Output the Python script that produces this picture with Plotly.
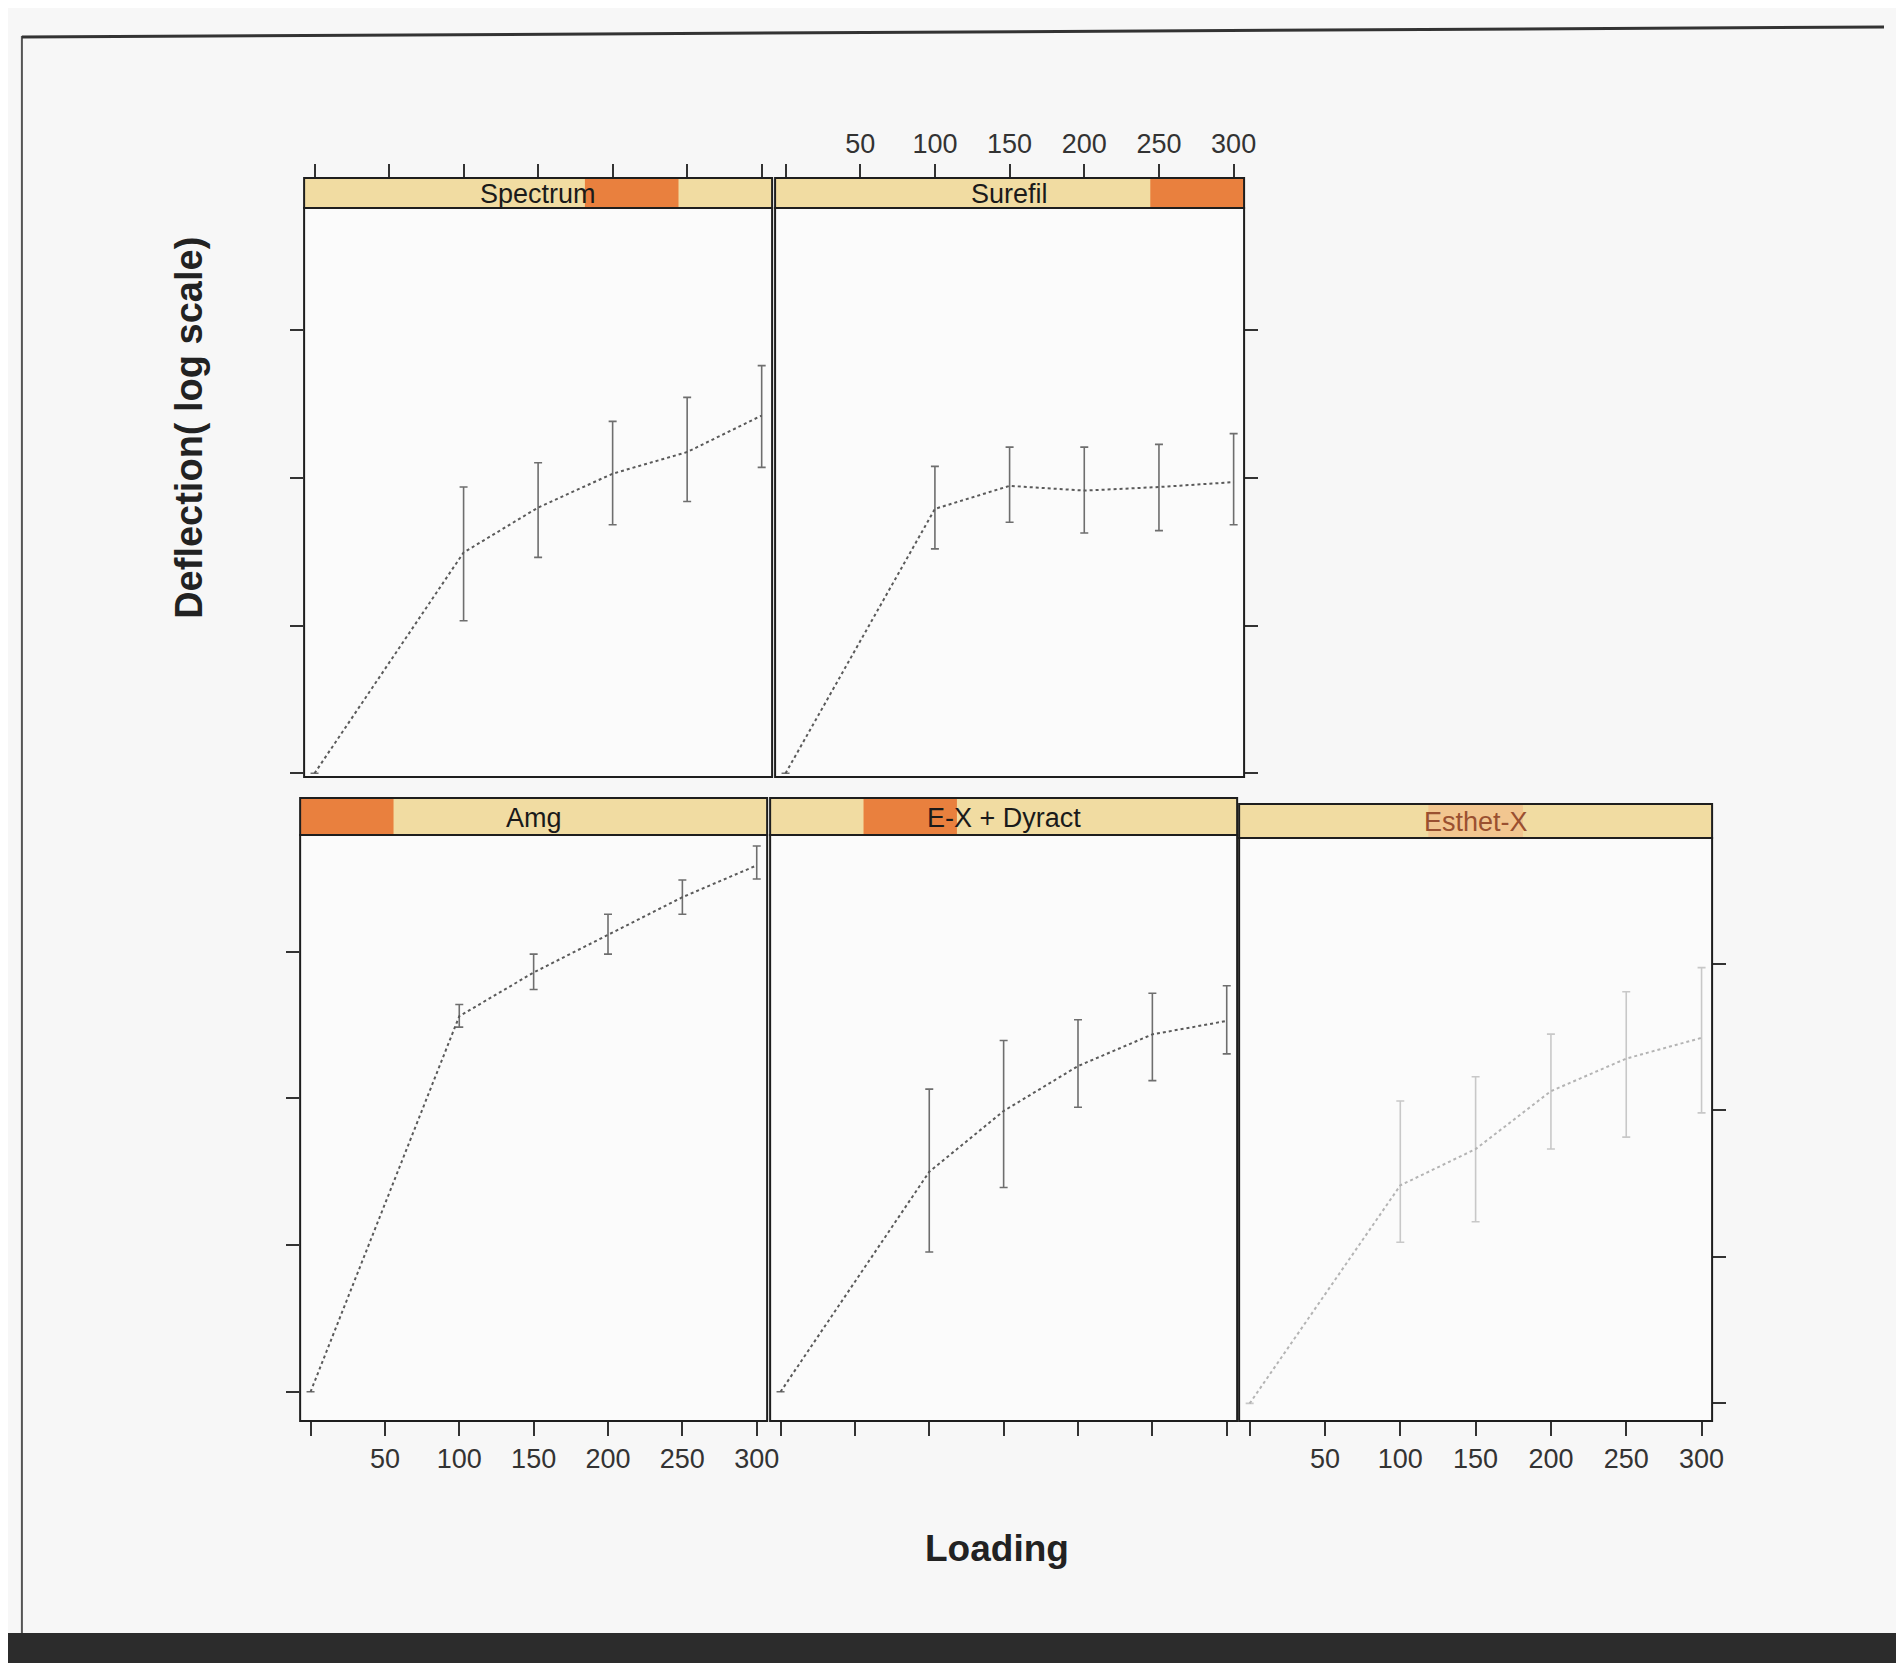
import plotly.graph_objects as go

# the page body adds an 8px margin around the figure; compensate
OFF = 8
W, H = 1904 - 2 * OFF, 1663 - OFF

# ---------------- data ----------------
loading = [0, 100, 150, 200, 250, 300]
x_ticks = [0, 50, 100, 150, 200, 250, 300]
x_tick_text = ["", "50", "100", "150", "200", "250", "300"]
y_ticks = [0.001, 0.01, 0.1, 1]

spectrum_mean = [0.001, 0.0313, 0.0631, 0.107, 0.150, 0.265]
spectrum_lo = [0.001, 0.0108, 0.0290, 0.0483, 0.0693, 0.118]
spectrum_hi = [0.001, 0.0869, 0.127, 0.242, 0.352, 0.577]

surefil_mean = [0.001, 0.0618, 0.0885, 0.0822, 0.0869, 0.0938]
surefil_lo = [0.001, 0.0331, 0.0502, 0.0424, 0.0440, 0.0483]
surefil_hi = [0.001, 0.120, 0.162, 0.162, 0.169, 0.200]

amg_mean = [0.001, 0.363, 0.721, 1.30, 2.35, 3.87]
amg_lo = [0.001, 0.306, 0.552, 0.962, 1.80, 3.13]
amg_hi = [0.001, 0.436, 0.962, 1.80, 3.08, 5.25]

exd_mean = [0.001, 0.0316, 0.082, 0.166, 0.273, 0.337]
exd_lo = [0.001, 0.00897, 0.0247, 0.0869, 0.132, 0.201]
exd_hi = [0.001, 0.1156, 0.248, 0.343, 0.521, 0.585]

esthet_mean = [0.001, 0.0308, 0.0545, 0.1355, 0.226, 0.313]
esthet_lo = [0.001, 0.0126, 0.0174, 0.0545, 0.0658, 0.0962]
esthet_hi = [0.001, 0.116, 0.170, 0.332, 0.646, 0.944]

materials = ["Amg", "E-X + Dyract", "Esthet-X", "Spectrum", "Surefil"]

# ---------------- layout helpers (page pixel -> paper) ----------------
def px(x):
    return (x - OFF) / W

def py(y):
    return 1 - (y - OFF) / H

panels = {
    "Spectrum": dict(ax="", box=(306, 777, 208, 777), strip=178, level=3,
                     mean=spectrum_mean, lo=spectrum_lo, hi=spectrum_hi,
                     yr=[-3.025, 0.829]),
    "Surefil": dict(ax="2", box=(780, 1252, 208, 777), strip=178, level=4,
                    mean=surefil_mean, lo=surefil_lo, hi=surefil_hi,
                    yr=[-3.025, 0.829]),
    "Amg": dict(ax="3", box=(302, 772, 835, 1421), strip=798, level=0,
                mean=amg_mean, lo=amg_lo, hi=amg_hi, yr=[-3.199, 0.795]),
    "E-X + Dyract": dict(ax="4", box=(775, 1245, 835, 1421), strip=798, level=1,
                         mean=exd_mean, lo=exd_lo, hi=exd_hi, yr=[-3.199, 0.795]),
    "Esthet-X": dict(ax="5", box=(1247, 1723, 838, 1421), strip=804, level=2,
                     mean=esthet_mean, lo=esthet_lo, hi=esthet_hi, yr=[-3.12, 0.86]),
}

fig = go.Figure()
shapes = []
annotations = []

line_dark = "#5a5a5a"
faint = "#b4b4b4"

for name, p in panels.items():
    ax = p["ax"]
    x0, x1, yt, yb = p["box"]
    col = faint if name == "Esthet-X" else line_dark
    ecol = "#c8c8c8" if name == "Esthet-X" else "#6e6e6e"
    plus = [h - m for h, m in zip(p["hi"], p["mean"])]
    minus = [m - l for m, l in zip(p["mean"], p["lo"])]
    fig.add_trace(go.Scatter(
        x=loading, y=p["mean"], mode="lines",
        line=dict(color=col, width=2, dash="dot"),
        error_y=dict(type="data", array=plus, arrayminus=minus,
                     color=ecol, thickness=1.6, width=4),
        xaxis="x" + ax, yaxis="y" + ax, showlegend=False, name=name,
    ))

    xname = "xaxis" + ax
    yname = "yaxis" + ax
    xa = dict(domain=[px(x0), px(x1)], range=[-7, 307], tickvals=x_ticks,
              ticktext=x_tick_text, ticks="outside", ticklen=14, tickwidth=1.5,
              tickcolor="#333", showgrid=False, zeroline=False, showline=False,
              tickfont=dict(family="Liberation Sans", size=27, color="#333"),
              anchor="y" + ax)
    if name in ("Spectrum", "Surefil"):
        xa.update(side="top", anchor="free", position=py(p["strip"]),
                  showticklabels=(name == "Surefil"))
    else:
        xa.update(side="bottom", showticklabels=(name != "E-X + Dyract"))
    ya = dict(domain=[py(yb), py(yt)], type="log", range=p["yr"],
              tickvals=y_ticks, showticklabels=False, ticks="outside",
              ticklen=13, tickwidth=1.5, tickcolor="#333", showgrid=False,
              zeroline=False, showline=False, anchor="x" + ax)
    if name in ("Surefil", "Esthet-X"):
        ya.update(side="right")
    elif name == "E-X + Dyract":
        ya.update(ticks="")
    fig.update_layout({xname: xa, yname: ya})

    # panel border
    shapes.append(dict(type="rect", xref="paper", yref="paper",
                       x0=px(x0), x1=px(x1), y0=py(yb), y1=py(yt),
                       line=dict(color="#1e1e1e", width=2), layer="above"))
    # strip
    st = p["strip"]
    shapes.append(dict(type="rect", xref="paper", yref="paper",
                       x0=px(x0), x1=px(x1), y0=py(yt), y1=py(st),
                       fillcolor="#f1dca2", line=dict(width=0), layer="above"))
    seg_w = (x1 - x0) / 5
    lv = p["level"]
    seg_col = "#f2c690" if name == "Esthet-X" else "#e9803e"
    shapes.append(dict(type="rect", xref="paper", yref="paper",
                       x0=px(x0 + lv * seg_w), x1=px(x0 + (lv + 1) * seg_w),
                       y0=py(yt), y1=py(st), fillcolor=seg_col,
                       line=dict(width=0), layer="above"))
    shapes.append(dict(type="rect", xref="paper", yref="paper",
                       x0=px(x0), x1=px(x1), y0=py(yt), y1=py(st),
                       line=dict(color="#1e1e1e", width=2), layer="above"))
    annotations.append(dict(x=px((x0 + x1) / 2), y=py((yt + st) / 2 + 1),
                            xref="paper", yref="paper", text=name,
                            showarrow=False, xanchor="center", yanchor="middle",
                            font=dict(family="Liberation Sans", size=27,
                                      color="#9a5030" if name == "Esthet-X" else "#1a1a1a")))

# axis titles
annotations.append(dict(x=px(190), y=py(428), xref="paper", yref="paper",
                        text="<b>Deflection( log scale)</b>", textangle=-90,
                        showarrow=False, xanchor="center", yanchor="middle",
                        font=dict(family="Liberation Sans", size=38, color="#222")))
annotations.append(dict(x=px(1003), y=py(1548), xref="paper", yref="paper",
                        text="<b>Loading</b>", showarrow=False,
                        xanchor="center", yanchor="middle",
                        font=dict(family="Liberation Sans", size=37, color="#222")))

# scanned page frame
shapes.append(dict(type="line", xref="paper", yref="paper",
                   x0=px(22), x1=px(22), y0=py(36), y1=py(1633),
                   line=dict(color="#555", width=2)))
shapes.append(dict(type="line", xref="paper", yref="paper",
                   x0=px(22), x1=1, y0=py(37), y1=py(27),
                   line=dict(color="#333", width=3)))
shapes.append(dict(type="rect", xref="paper", yref="paper",
                   x0=-0.01, x1=1.01, y0=-0.01, y1=py(1633),
                   fillcolor="#2c2c2c", line=dict(width=0)))

fig.update_layout(
    width=W, height=H,
    margin=dict(l=0, r=0, t=0, b=0),
    paper_bgcolor="#f7f7f7",
    plot_bgcolor="#fbfbfb",
    shapes=shapes,
    annotations=annotations,
    showlegend=False,
)

fig.write_html("out.html")
